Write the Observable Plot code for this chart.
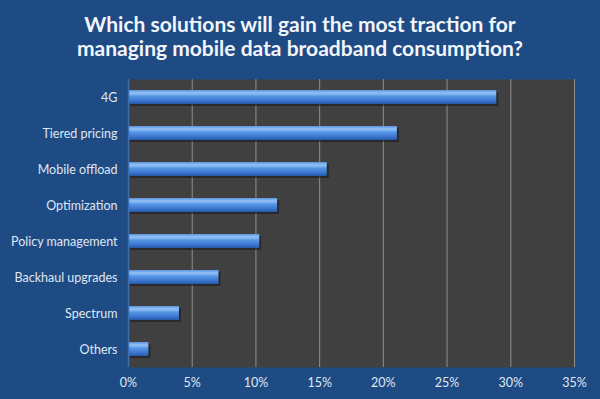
<!DOCTYPE html>
<html>
<head>
<meta charset="utf-8">
<script src="https://cdn.jsdelivr.net/npm/d3@7"></script>
<script src="https://cdn.jsdelivr.net/npm/@observablehq/plot@0.6"></script>
<style>
  html, body { margin: 0; padding: 0; background: #1f4b85; }
  #wrap { width: 600px; height: 399px; background: #1f4b85; overflow: hidden; }
  #title { height: 68px; box-sizing: border-box; padding-top: 12px; text-align: center;
    color: #f2f5fa; font-family: Lato, "Open Sans", sans-serif; font-weight: bold;
    font-size: 21px; line-height: 24px; }
  svg { display: block; }
</style>
</head>
<body>
<div id="wrap">
  <div id="title">Which solutions will gain the most traction for<br>managing mobile data broadband consumption?</div>
  <div id="chart"></div>
</div>
<script>
const categories = ["4G", "Tiered pricing", "Mobile offload", "Optimization", "Policy management", "Backhaul upgrades", "Spectrum", "Others"];
const values = [28.9, 21.1, 15.6, 11.7, 10.3, 7.1, 4.0, 1.6];
const xTicks = [0, 5, 10, 15, 20, 25, 30, 35];

const data = categories.map((c, i) => ({category: c, value: values[i]}));

const chart = Plot.plot({
  width: 600,
  height: 331,
  marginTop: 11,
  marginBottom: 32,
  marginLeft: 128,
  marginRight: 26,
  style: {background: "transparent", color: "#dfe7f2", fontFamily: "Lato, 'Open Sans', sans-serif", fontSize: "12.5px"},
  x: {domain: [0, 35], ticks: xTicks, tickFormat: d => d + "%", label: null, tickSize: 0, tickPadding: 11},
  y: {domain: categories, label: null, paddingInner: 0.6, paddingOuter: 0.3, tickSize: 0, tickPadding: 11},
  marks: [
    Plot.frame({fill: "#404040", stroke: null}),
    Plot.ruleX(xTicks, {stroke: "#8f8f8f", strokeWidth: 1}),
    Plot.ruleY([0], {frameAnchor: "bottom", stroke: "#8f8f8f"}),
    Plot.barX(data, {y: "category", x: "value", fill: "#1a1a1a", fillOpacity: 0.6, dx: 2, dy: 2}),
    Plot.barX(data, {y: "category", x: "value", fill: "#4f8ad8", className: "mainbar"}),
    Plot.ruleX([0], {stroke: "#3d6fb0", strokeWidth: 1.5})
  ]
});

const svg = d3.select(chart);
const defs = svg.insert("defs", ":first-child");
const g = defs.append("linearGradient").attr("id", "barGrad").attr("x1", 0).attr("y1", 0).attr("x2", 0).attr("y2", 1);
g.append("stop").attr("offset", "0%").attr("stop-color", "#5a94e2");
g.append("stop").attr("offset", "22%").attr("stop-color", "#96c2f6");
g.append("stop").attr("offset", "45%").attr("stop-color", "#5595e6");
g.append("stop").attr("offset", "80%").attr("stop-color", "#3872cb");
g.append("stop").attr("offset", "100%").attr("stop-color", "#2857a2");
svg.selectAll(".mainbar rect").attr("fill", "url(#barGrad)");

document.getElementById("chart").appendChild(chart);
</script>
</body>
</html>
